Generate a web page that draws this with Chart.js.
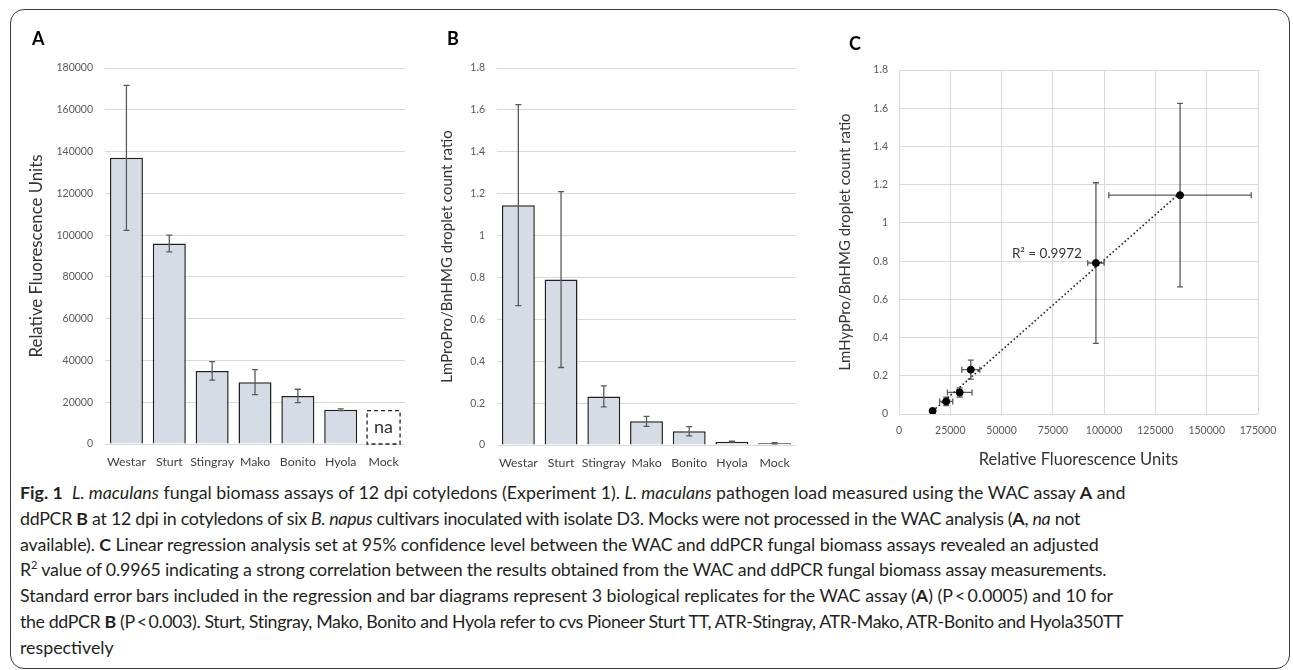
<!DOCTYPE html>
<html>
<head>
<meta charset="utf-8">
<script src="https://cdn.jsdelivr.net/npm/chart.js@4.4.1/dist/chart.umd.min.js"></script>
<style>
  body { margin: 0; width: 1293px; height: 670px; background: #fff; overflow: hidden; position: relative; font-family: Lato, sans-serif; }
  .frame { position: absolute; left: 10px; top: 9px; width: 1280px; height: 660px; box-sizing: border-box; border: 1.6px solid #3a3a3a; border-radius: 14px; }
  canvas { position: absolute; top: 0; }
  .panel { position: absolute; font: bold 18px Lato, sans-serif; line-height: 20px; color: #000; }
  .caption { position: absolute; left: 20px; top: 480px; font-size: 17.8px; line-height: 25.8px; color: #231f20; white-space: nowrap; }
  .caption span { display: block; }
  .caption sup { font-size: 11px; line-height: 0; }
</style>
</head>
<body>
<div class="frame"></div>
<canvas id="chartA" width="420" height="480" style="left:0px"></canvas>
<canvas id="chartB" width="400" height="480" style="left:420px"></canvas>
<canvas id="chartC" width="473" height="480" style="left:820px"></canvas>
<div class="panel" style="left:32px; top:28px;">A</div>
<div class="panel" style="left:447px; top:28px;">B</div>
<div class="panel" style="left:849px; top:33px;">C</div>
<div class="caption">
<span><b>Fig. 1</b>&nbsp;&nbsp;<i>L. maculans</i> fungal biomass assays of 12 dpi cotyledons (Experiment 1). <i>L. maculans</i> pathogen load measured using the WAC assay <b>A</b> and</span>
<span style="letter-spacing:-0.28px">ddPCR <b>B</b> at 12 dpi in cotyledons of six <i>B. napus</i> cultivars inoculated with isolate D3. Mocks were not processed in the WAC analysis (<b>A</b>, <i>na</i> not</span>
<span style="letter-spacing:-0.09px">available). <b>C</b> Linear regression analysis set at 95% confidence level between the WAC and ddPCR fungal biomass assays revealed an adjusted</span>
<span style="letter-spacing:-0.17px">R<sup>2</sup> value of 0.9965 indicating a strong correlation between the results obtained from the WAC and ddPCR fungal biomass assay measurements.</span>
<span style="letter-spacing:-0.03px">Standard error bars included in the regression and bar diagrams represent 3 biological replicates for the WAC assay (<b>A</b>) (P&thinsp;&lt;&thinsp;0.0005) and 10 for</span>
<span style="letter-spacing:-0.37px">the ddPCR <b>B</b> (P&thinsp;&lt;&thinsp;0.003). Sturt, Stingray, Mako, Bonito and Hyola refer to cvs Pioneer Sturt TT, ATR-Stingray, ATR-Mako, ATR-Bonito and Hyola350TT</span>
<span>respectively</span>
</div>
<script>
// cultivars
const categories = ["Westar", "Sturt", "Stingray", "Mako", "Bonito", "Hyola", "Mock"];

// A: WAC assay (relative fluorescence units), Mock not processed
const wacMeans = [137000, 96000, 35000, 29600, 23000, 16400, null];
const wacErrors = [34700, 4000, 4400, 6000, 3200, 400, null];
const naBoxHeight = 16000; // height of the dashed "na" placeholder

// B: ddPCR droplet count ratio
const ddpcrMeans = [1.145, 0.79, 0.232, 0.113, 0.066, 0.016, 0.008];
const ddpcrErrors = [0.48, 0.42, 0.05, 0.024, 0.022, 0.002, 0.003];

// C: regression trend line (end points)
const trendX = [16400, 137000];
const trendY = [0.015, 1.157];
const r2Label = "R\u00b2 = 0.9972";

// tick labels
const ticksA = [0, 20000, 40000, 60000, 80000, 100000, 120000, 140000, 160000, 180000];
const ticksRatio = [0, 0.2, 0.4, 0.6, 0.8, 1, 1.2, 1.4, 1.6, 1.8];
const ticksCx = [0, 25000, 50000, 75000, 100000, 125000, 150000, 175000];

const FONT = "Lato";
const tickColor = "#595959";
const labelColor = "#404040";
const gridColor = "#d9d9d9";
const barFill = "#d6dce5";
const barEdge = "#202020";
const errColor = "#5a5a5a";

// vertical error bars on bar charts
const errorBars = {
  id: "errorBars",
  afterDatasetsDraw(chart, args, opts) {
    const { ctx } = chart;
    const yScale = chart.scales.y;
    const ds = chart.data.datasets[0];
    const meta = chart.getDatasetMeta(0);
    ctx.save();
    ctx.strokeStyle = errColor;
    ctx.lineWidth = 1.3;
    meta.data.forEach((bar, i) => {
      const v = ds.data[i], e = opts.errors[i];
      if (v == null || e == null) return;
      const top = yScale.getPixelForValue(v + e);
      const bot = yScale.getPixelForValue(v - e);
      ctx.beginPath();
      ctx.moveTo(bar.x, top); ctx.lineTo(bar.x, bot);
      ctx.moveTo(bar.x - 3, top); ctx.lineTo(bar.x + 3, top);
      ctx.moveTo(bar.x - 3, bot); ctx.lineTo(bar.x + 3, bot);
      ctx.stroke();
    });
    ctx.restore();
  }
};

// dashed placeholder bar with "na" for the Mock in A
const naBox = {
  id: "naBox",
  afterDatasetsDraw(chart, args, opts) {
    if (!opts.show) return;
    const { ctx } = chart;
    const xs = chart.scales.x, ys = chart.scales.y;
    const w = chart.getDatasetMeta(0).data[0].width;
    const cx = xs.getPixelForValue(opts.index);
    const top = ys.getPixelForValue(opts.value);
    const base = ys.getPixelForValue(0);
    ctx.save();
    ctx.strokeStyle = "#222";
    ctx.lineWidth = 1.3;
    ctx.setLineDash([4, 3]);
    ctx.strokeRect(cx - w / 2, top, w, base - top);
    ctx.setLineDash([]);
    ctx.fillStyle = "#333";
    ctx.font = "18px " + FONT;
    ctx.textAlign = "center";
    ctx.textBaseline = "middle";
    ctx.fillText(opts.text, cx, (top + base) / 2);
    ctx.restore();
  }
};

function barChart(id, values, errors, ticks, yMax, yTitle, geom, na) {
  return new Chart(document.getElementById(id), {
    type: "bar",
    data: {
      labels: categories,
      datasets: [{
        data: values,
        backgroundColor: barFill,
        borderColor: barEdge,
        borderWidth: 1.5,
        categoryPercentage: 1,
        barPercentage: 0.77
      }]
    },
    options: {
      responsive: false,
      animation: false,
      layout: { padding: { top: geom.top, left: 0, right: geom.right, bottom: 0 } },
      plugins: {
        legend: { display: false },
        tooltip: { enabled: false },
        errorBars: { errors: errors },
        naBox: na
      },
      scales: {
        x: {
          grid: { display: false },
          border: { display: false },
          ticks: { color: labelColor, font: { family: FONT, size: 12.3 }, padding: 3, maxRotation: 0, autoSkip: false },
          afterFit(s) { s.height = geom.xh; }
        },
        y: {
          min: 0,
          max: yMax,
          afterBuildTicks(s) { s.ticks = ticks.map(v => ({ value: v })); },
          grid: { color: gridColor, drawTicks: false },
          border: { display: false },
          ticks: { color: tickColor, font: { family: FONT, size: 10.5 }, padding: 12, callback: v => String(v) },
          title: { display: true, text: yTitle, color: "#333", font: { family: FONT, size: geom.titleSize }, padding: { top: geom.titlePad, bottom: 0 } },
          afterFit(s) { s.width = geom.yw; }
        }
      }
    },
    plugins: [errorBars, naBox]
  });
}

barChart("chartA", wacMeans, wacErrors, ticksA, 180000, "Relative Fluorescence Units",
  { top: 68, right: 15, xh: 36, yw: 105, titlePad: 27, titleSize: 16.8 },
  { show: true, index: 6, value: naBoxHeight, text: "na" });

barChart("chartB", ddpcrMeans, ddpcrErrors, ticksRatio, 1.8, "LmProPro/BnHMG droplet count ratio",
  { top: 68, right: 24, xh: 35, yw: 77, titlePad: 18, titleSize: 15 },
  { show: false });

// C: scatter with x and y error bars
const scatterPoints = categories.slice(0, 6).map((c, i) => ({ x: wacMeans[i], y: ddpcrMeans[i] }));
const trendPoints = trendX.map((x, i) => ({ x: x, y: trendY[i] }));

const xyErrorBars = {
  id: "xyErrorBars",
  beforeDatasetsDraw(chart) {
    const { ctx } = chart;
    const xs = chart.scales.x, ys = chart.scales.y;
    ctx.save();
    ctx.strokeStyle = errColor;
    ctx.lineWidth = 1.3;
    scatterPoints.forEach((p, i) => {
      const px = xs.getPixelForValue(p.x), py = ys.getPixelForValue(p.y);
      const y1 = ys.getPixelForValue(p.y + ddpcrErrors[i]);
      const y2 = ys.getPixelForValue(p.y - ddpcrErrors[i]);
      const x1 = xs.getPixelForValue(p.x - wacErrors[i]);
      const x2 = xs.getPixelForValue(p.x + wacErrors[i]);
      ctx.beginPath();
      ctx.moveTo(px, y1); ctx.lineTo(px, y2);
      ctx.moveTo(px - 3, y1); ctx.lineTo(px + 3, y1);
      ctx.moveTo(px - 3, y2); ctx.lineTo(px + 3, y2);
      ctx.moveTo(x1, py); ctx.lineTo(x2, py);
      ctx.moveTo(x1, py - 3); ctx.lineTo(x1, py + 3);
      ctx.moveTo(x2, py - 3); ctx.lineTo(x2, py + 3);
      ctx.stroke();
    });
    ctx.restore();
  },
  afterDatasetsDraw(chart) {
    const { ctx } = chart;
    const xs = chart.scales.x, ys = chart.scales.y;
    // R² label sits just left of the Sturt point
    const px = xs.getPixelForValue(scatterPoints[1].x);
    const py = ys.getPixelForValue(scatterPoints[1].y);
    ctx.save();
    ctx.fillStyle = "#333";
    ctx.font = "13.5px " + FONT;
    ctx.textAlign = "right";
    ctx.textBaseline = "middle";
    ctx.fillText(r2Label, px - 14, py - 9);
    ctx.restore();
  }
};

new Chart(document.getElementById("chartC"), {
  type: "scatter",
  data: {
    datasets: [
      {
        data: scatterPoints,
        backgroundColor: "#000",
        borderColor: "#000",
        pointRadius: 3.5,
        pointHoverRadius: 3.5
      },
      {
        data: trendPoints,
        showLine: true,
        borderColor: "#222",
        borderWidth: 1.6,
        borderDash: [1.6, 2.4],
        pointRadius: 0
      }
    ]
  },
  options: {
    responsive: false,
    animation: false,
    layout: { padding: { top: 70, left: 0, right: 35, bottom: 0 } },
    plugins: { legend: { display: false }, tooltip: { enabled: false } },
    scales: {
      x: {
        type: "linear",
        min: 0,
        max: 175000,
        afterBuildTicks(s) { s.ticks = ticksCx.map(v => ({ value: v })); },
        grid: { color: gridColor, drawTicks: false },
        border: { display: false },
        ticks: { color: tickColor, font: { family: FONT, size: 10.5 }, padding: 10, maxRotation: 0, callback: v => String(v) },
        title: { display: true, text: "Relative Fluorescence Units", color: "#333", font: { family: FONT, size: 16.5 }, padding: { top: 0, bottom: 10 } },
        afterFit(s) { s.height = 66; }
      },
      y: {
        min: 0,
        max: 1.8,
        afterBuildTicks(s) { s.ticks = ticksRatio.map(v => ({ value: v })); },
        grid: { color: gridColor, drawTicks: false },
        border: { display: false },
        ticks: { color: tickColor, font: { family: FONT, size: 10.5 }, padding: 11, callback: v => String(v) },
        title: { display: true, text: "LmHypPro/BnHMG droplet count ratio", color: "#333", font: { family: FONT, size: 15 }, padding: { top: 16, bottom: 0 } },
        afterFit(s) { s.width = 79; }
      }
    }
  },
  plugins: [xyErrorBars]
});
</script>
</body>
</html>
